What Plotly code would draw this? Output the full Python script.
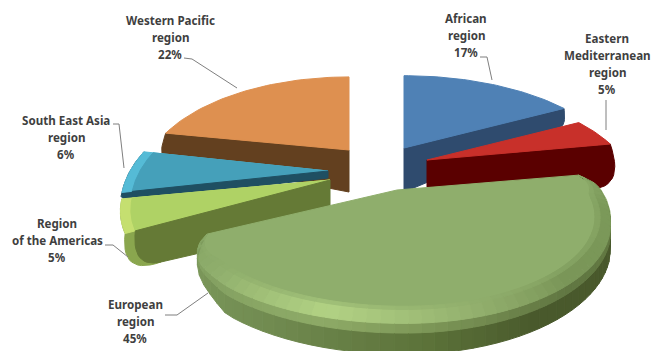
import math
import plotly.graph_objects as go

# ---- data (clockwise from 12 o'clock) ----
label_lines = [
    ["African", "region"],
    ["Eastern", "Mediterranean", "region"],
    ["European", "region"],
    ["Region", "of the Americas"],
    ["South East Asia", "region"],
    ["Western Pacific", "region"],
]
percent_values = [17, 5, 45, 5, 6, 22]

# ---- drawing geometry, one entry per slice ----
PERSPECTIVE = 0.3
geometry = [
    dict(ax=404, ay=148, rx=209, ry=94),
    dict(ax=427, ay=160, rx=197, ry=90),
    dict(ax=404, ay=190, rx=197, ry=88, apex_x=397, rx_left=216),
    dict(ax=330, ay=180, rx=200, ry=95),
    dict(ax=328, ay=171, rx=198, ry=108),
    dict(ax=349, ay=150, rx=197, ry=95),
]
top_colors = ["#4F81B5", "#C8302A", "#8FAE6C", "#AFD265", "#45A0BA", "#DE9050"]
face_colors = ["#2F4B6E", "#5A0000", None, "#657A36", "#1F4F62", "#63401F"]
# cut-face: drop at apex, corner control vector, fraction along lower edge
faces = [
    dict(h=44, d=(2, 16), f=0.03),
    dict(h=27, d=(16, 46), f=0.2),
    None,
    dict(h=43, d=(-4, 38), f=0.15),
    dict(h=7, d=(0, 9), f=0.02),
    dict(h=42, d=(-8, 22), f=0.04),
]
rim = [None, None, None,
       dict(bevel="#C5DF70", wall="#8AA64E", drop=43, rad=0.95),
       dict(bevel="#55BBD6", wall="#1F4F62", drop=8, rad=0.95),
       None]

# label text centres and leaders
label_pos = [(466, 18), (607, 38), (135, 304), (57, 223), (66, 120), (170, 20)]
label_step = 17
leaders = [
    [(480, 57), (487, 57), (492, 80)],
    [(606, 100), (606, 130)],
    [(165, 315), (177, 315), (208, 293)],
    [(105, 245), (113, 245), (128, 257)],
    [(113, 124), (119, 124), (124, 168)],
    [(184, 58), (192, 59), (237, 88)],
]
TEXT_COLOR = "#3F3F3F"
LEADER_COLOR = "#7F7F7F"

fig = go.Figure()


def P(g, t, rad=1.0, drop=0.0):
    w = 1 + PERSPECTIVE * math.cos(t)
    s = math.sin(t)
    rx = g.get("rx_left", g["rx"]) if s < 0 else g["rx"]
    return (g["ax"] + rad * rx * s / w,
            g["ay"] - rad * g["ry"] * math.cos(t) / w + drop)


def poly(pts, color):
    xs = [p[0] for p in pts] + [pts[0][0]]
    ys = [p[1] for p in pts] + [pts[0][1]]
    fig.add_trace(go.Scatter(x=xs, y=ys, mode="lines", fill="toself",
                             fillcolor=color,
                             line=dict(color=color, width=1),
                             hoverinfo="skip", showlegend=False))


def hex_rgb(c):
    return [int(c[i:i + 2], 16) for i in (1, 3, 5)]


def lerp_rgb(stops, v):
    stops = sorted(stops)
    if v <= stops[0][0]:
        return hex_rgb(stops[0][1])
    for (a, ca), (b, cb) in zip(stops, stops[1:]):
        if v <= b:
            q = (v - a) / (b - a)
            return [x * (1 - q) + y * q for x, y in zip(hex_rgb(ca), hex_rgb(cb))]
    return hex_rgb(stops[-1][1])


def css(rgb):
    return "rgb(%d,%d,%d)" % tuple(rgb)


def mix(c1, c2, q=0.5):
    return [x * (1 - q) + y * q for x, y in zip(c1, c2)]


def arc(g, t0, t1, rad=1.0, n=40):
    return [P(g, t0 + (t1 - t0) * i / n, rad) for i in range(n + 1)]


def bezier(a, b, c, n=14):
    return [((1 - u) ** 2 * a[0] + 2 * u * (1 - u) * b[0] + u ** 2 * c[0],
             (1 - u) ** 2 * a[1] + 2 * u * (1 - u) * b[1] + u ** 2 * c[1])
            for u in [i / n for i in range(n + 1)]]


total = sum(percent_values)
angles = []
acc = 0
for v in percent_values:
    angles.append((2 * math.pi * acc / total, 2 * math.pi * (acc + v) / total))
    acc += v


def cut_face(i, corner_rad=1.0):
    g, fc = geometry[i], faces[i]
    t0, t1 = angles[i]
    t = t1 if t1 <= math.pi else t0
    A = (g["ax"], g["ay"])
    C = P(g, t, corner_rad)
    low = (A[0], A[1] + fc["h"])
    ctrl = (C[0] + fc["d"][0], C[1] + fc["d"][1])
    end = (ctrl[0] + (low[0] - ctrl[0]) * fc["f"], ctrl[1] + (low[1] - ctrl[1]) * fc["f"])
    return [A] + bezier(C, ctrl, end) + [low]


def draw_simple(i):
    g = geometry[i]
    t0, t1 = angles[i]
    r = rim[i]
    if r:
        face = cut_face(i, r["rad"])
        outer = P(g, t0)
        outline = arc(g, t1, t0) + bezier(outer, (outer[0] - 5, outer[1] + r["drop"]), face[-2])
        poly(outline, r["wall"])
        poly([(g["ax"], g["ay"])] + arc(g, t0, t1), r["bevel"])
        poly([(g["ax"], g["ay"])] + arc(g, t0, t1, r["rad"]), top_colors[i])
        poly(face, face_colors[i])
    else:
        if face_colors[i]:
            poly(cut_face(i), face_colors[i])
        poly([(g["ax"], g["ay"])] + arc(g, t0, t1), top_colors[i])


def draw_european(i):
    g = geometry[i]
    t0, t1 = angles[i]
    top = top_colors[i]
    span = t1 - t0
    n = 60
    wall_stops = [(80, "#4A5A2C"), (150, "#49592C"), (175, "#5C7239"), (205, "#708A50"), (240, "#7F9C5E")]
    bevel_stops = [(80, "#8AA868"), (100, "#7C9A5A"), (140, "#7A9658"),
                   (165, "#93B06E"), (195, "#B2D284"), (225, "#8FAE6C"), (242, "#86A564")]
    height = 27.0

    def taper(t):
        return min(1.0, min((t - t0) / math.radians(35), (t1 - t) / math.radians(22)))

    def drop_of(t):
        w = 1 + PERSPECTIVE * math.cos(t)
        return height / w * taper(t)

    def round_rad(t):
        near_end = max(0.0, 1 - (t1 - t) / math.radians(14))
        near_start = max(0.0, 1 - (t - t0) / math.radians(10))
        return 1 - 0.11 * near_end ** 2 - 0.05 * near_start ** 2

    def rad_in(t):
        return round_rad(t) - 0.05 * min(1.0, min(t - t0, t1 - t) / math.radians(14))

    def rad_in2(t):
        return round_rad(t) - 0.075 * min(1.0, min(t - t0, t1 - t) / math.radians(14))

    rim_pts = [P(g, t0 + span * k / 120, round_rad(t0 + span * k / 120)) for k in range(121)]
    poly([(g.get("apex_x", g["ax"]), g["ay"])] + rim_pts, top)
    top_rgb = hex_rgb(top)
    for k in range(n):
        a = t0 + span * k / n
        b = t0 + span * (k + 1) / n
        mid = math.degrees((a + b) / 2)
        ra, rb = round_rad(a), round_rad(b)
        wall = lerp_rgb(wall_stops, mid)
        bevel = lerp_rgb(bevel_stops, mid)
        # wall lower part
        poly([P(g, a, ra, 0.45 * drop_of(a)), P(g, b, rb, 0.45 * drop_of(b)),
              P(g, b, rb, drop_of(b)), P(g, a, ra, drop_of(a))], css(wall))
        # wall blend
        poly([P(g, a, ra, 0.2 * drop_of(a)), P(g, b, rb, 0.2 * drop_of(b)),
              P(g, b, rb, 0.45 * drop_of(b)), P(g, a, ra, 0.45 * drop_of(a))], css(mix(wall, bevel)))
        # bevel
        poly([P(g, a, rad_in(a)), P(g, b, rad_in(b)),
              P(g, b, rb, 0.2 * drop_of(b)), P(g, a, ra, 0.2 * drop_of(a))], css(bevel))
        # soft inner edge
        poly([P(g, a, rad_in2(a)), P(g, b, rad_in2(b)),
              P(g, b, rad_in(b)), P(g, a, rad_in(a))], css(mix(top_rgb, bevel)))


# back-to-front painter order
for idx in [5, 0, 1, 4, 3]:
    draw_simple(idx)
draw_european(2)

# leaders
for pts in leaders:
    fig.add_trace(go.Scatter(x=[p[0] for p in pts], y=[p[1] for p in pts], mode="lines",
                             line=dict(color=LEADER_COLOR, width=1),
                             hoverinfo="skip", showlegend=False))

# labels
annotations = []
for lines, v, (x, y) in zip(label_lines, percent_values, label_pos):
    for j, txt in enumerate(lines + ["%d%%" % v]):
        annotations.append(dict(x=x, y=y + j * label_step, text=txt, showarrow=False,
                                xref="x", yref="y", xanchor="center", yanchor="middle",
                                font=dict(family="Noto Sans", size=11.6, color=TEXT_COLOR,
                                          weight="bold")))

fig.update_layout(
    width=651, height=351, margin=dict(l=0, r=0, t=0, b=0),
    paper_bgcolor="white", plot_bgcolor="white", showlegend=False,
    xaxis=dict(range=[0, 651], visible=False, fixedrange=True),
    yaxis=dict(range=[351, 0], visible=False, fixedrange=True),
    annotations=annotations,
)
fig.write_html("out.html", config=dict(displayModeBar=False),
               post_script="document.documentElement.style.margin='0';document.body.style.margin='0';document.body.style.padding='0';")
